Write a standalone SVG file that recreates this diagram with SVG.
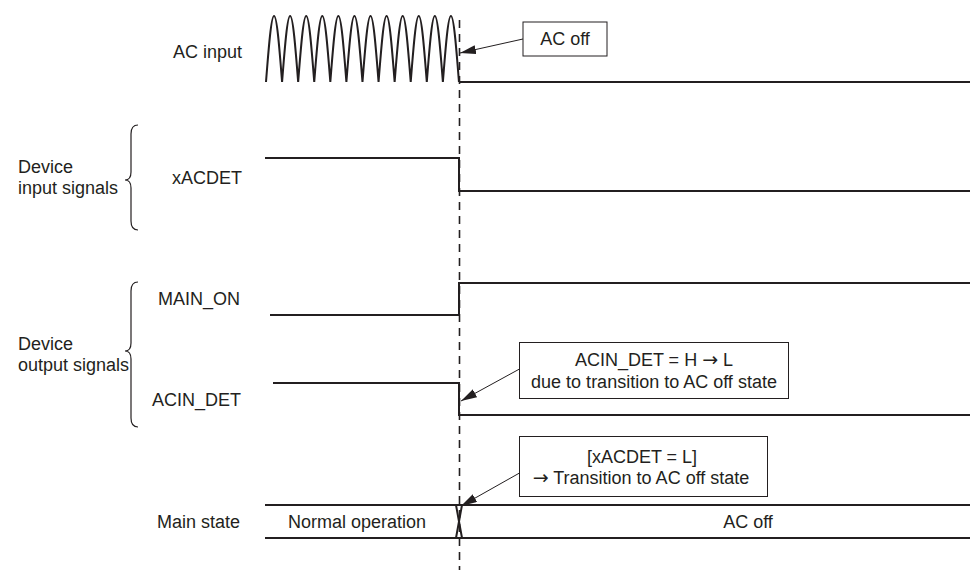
<svg xmlns="http://www.w3.org/2000/svg" width="970" height="570" viewBox="0 0 970 570">
<style>
text{font-family:"Liberation Sans",Arial,sans-serif;font-size:18px;fill:#231f20}
.sym{font-family:"DejaVu Sans",sans-serif;font-size:19px}
.sig{fill:none;stroke:#231f20;stroke-width:2}
.box{fill:#fff;stroke:#231f20;stroke-width:1}
.brace{fill:none;stroke:#231f20;stroke-width:1.2}
.arr{fill:none;stroke:#231f20;stroke-width:1}
.mid{text-anchor:middle}
</style>
<defs>
<marker id="ah" markerUnits="userSpaceOnUse" markerWidth="17" markerHeight="10" refX="16" refY="4.5" orient="auto">
<path d="M0,0 L16,4.5 L0,9 Z" fill="#231f20"/>
</marker>
</defs>
<rect width="970" height="570" fill="#fff"/>

<g id="ac-input">
<text x="173" y="58">AC input</text>
<path class="sig" stroke-width="2.5" d="M266,82 c2.62,-33.8 5.13,-66 8.04,-66 c2.91,0 5.42,32.2 8.04,66 c2.62,-33.8 5.13,-66 8.04,-66 c2.91,0 5.42,32.2 8.04,66 c2.62,-33.8 5.13,-66 8.04,-66 c2.91,0 5.42,32.2 8.04,66 c2.62,-33.8 5.13,-66 8.04,-66 c2.91,0 5.42,32.2 8.04,66 c2.62,-33.8 5.13,-66 8.04,-66 c2.91,0 5.42,32.2 8.04,66 c2.62,-33.8 5.13,-66 8.04,-66 c2.91,0 5.42,32.2 8.04,66 c2.62,-33.8 5.13,-66 8.04,-66 c2.91,0 5.42,32.2 8.04,66 c2.62,-33.8 5.13,-66 8.04,-66 c2.91,0 5.42,32.2 8.04,66 c2.62,-33.8 5.13,-66 8.04,-66 c2.91,0 5.42,32.2 8.04,66 c2.62,-33.8 5.13,-66 8.04,-66 c2.91,0 5.42,32.2 8.04,66 c2.62,-33.8 5.13,-66 8.04,-66 c2.91,0 5.42,32.2 8.04,66 c2.62,-33.8 5.13,-66 8.04,-66 c2.91,0 5.42,32.2 8.04,66"/>
<path class="sig" d="M459,82 H970"/>
</g>

<g id="input-group">
<text x="18" y="173">Device</text>
<text x="18" y="194">input signals</text>
<path class="brace" d="M138,125 Q131,125 131,134 L131,172 Q131,180 125,180 Q131,180 131,188 L131,221 Q131,230 138,230"/>
</g>

<g id="xacdet">
<text x="172" y="184">xACDET</text>
<path class="sig" d="M265,158 H459 V191 H970"/>
</g>

<g id="output-group">
<text x="18" y="350">Device</text>
<text x="18" y="371">output signals</text>
<path class="brace" d="M138,282 Q131,282 131,291 L131,343 Q131,351 125,351 Q131,351 131,359 L131,418 Q131,427 138,427"/>
</g>

<g id="main-on">
<text x="158" y="305">MAIN_ON</text>
<path class="sig" d="M270,315 H459 V283 H970"/>
</g>

<g id="acin-det">
<text x="152" y="406">ACIN_DET</text>
<path class="sig" d="M273,383 H459 V415 H970"/>
</g>

<g id="main-state">
<text x="157" y="528">Main state</text>
<path class="sig" d="M265,505 H970 M265,538 H970"/>
<path class="sig" stroke-width="1.5" d="M456,505 L462,538 M462,505 L456,538"/>
<text class="mid" x="357" y="528">Normal operation</text>
<text class="mid" x="748" y="528">AC off</text>
</g>

<g id="timing-line">
<line x1="459.5" y1="20" x2="459.5" y2="570" stroke="#231f20" stroke-width="1.6" stroke-dasharray="8,6"/>
</g>

<g id="note-ac-off">
<rect class="box" x="523" y="22" width="84" height="34"/>
<text class="mid" x="565" y="45">AC off</text>
</g>

<g id="note-acin">
<rect class="box" x="519.5" y="342.5" width="269" height="56"/>
<text class="mid" x="654" y="366">ACIN_DET = H <tspan class="sym">→</tspan> L</text>
<text class="mid" x="654" y="388">due to transition to AC off state</text>
</g>

<g id="note-state">
<rect class="box" x="519.5" y="436.5" width="248" height="60"/>
<text class="mid" x="642" y="463">[xACDET = L]</text>
<text class="mid" x="641" y="484"><tspan class="sym">→</tspan> Transition to AC off state</text>
</g>

<g id="connectors">
<line class="arr" x1="523" y1="39" x2="460" y2="53" marker-end="url(#ah)"/>
<line class="arr" x1="519.5" y1="369" x2="461" y2="401" marker-end="url(#ah)"/>
<line class="arr" x1="519.5" y1="473" x2="461" y2="506" marker-end="url(#ah)"/>
</g>
</svg>
